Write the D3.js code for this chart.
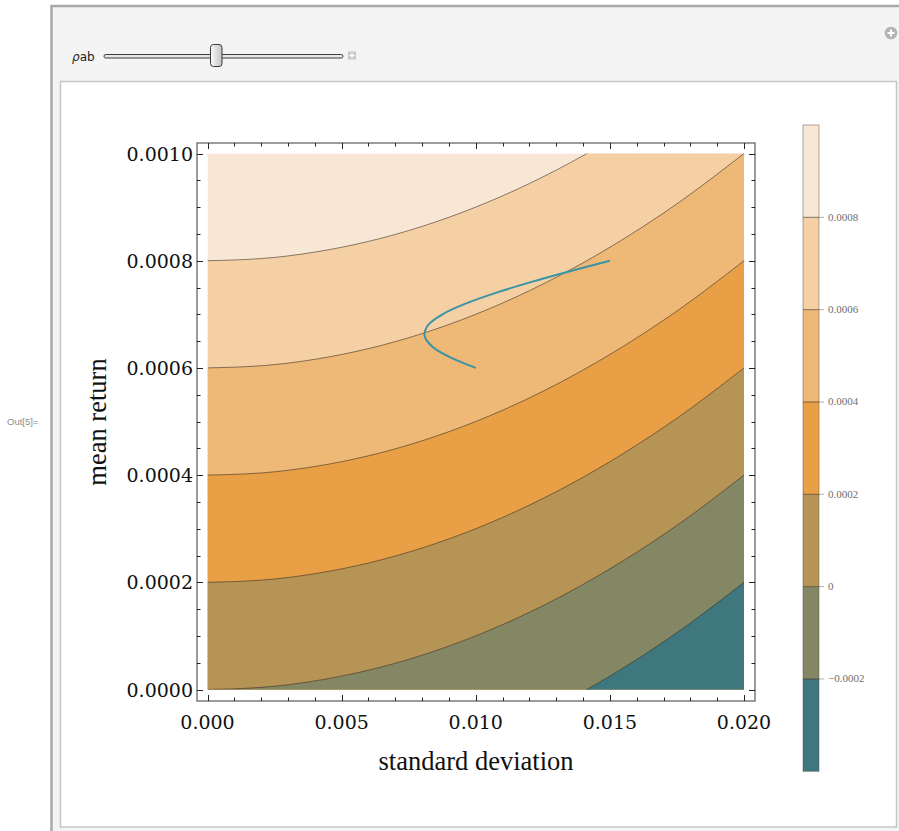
<!DOCTYPE html>
<html>
<head>
<meta charset="utf-8">
<script src="https://cdn.jsdelivr.net/npm/d3@7"></script>
<style>
  html, body { margin: 0; padding: 0; background: #ffffff; }
  svg { display: block; }
</style>
</head>
<body>
<svg id="chart" width="899" height="831"></svg>
<script>
// Axis ticks and labels
const sigmaTicks = [0, 0.005, 0.01, 0.015, 0.02];
const sigmaTickLabels = ["0.000", "0.005", "0.010", "0.015", "0.020"];
const muTicks = [0, 0.0002, 0.0004, 0.0006, 0.0008, 0.001];
const muTickLabels = ["0.0000", "0.0002", "0.0004", "0.0006", "0.0008", "0.0010"];

// Contour levels of the utility surface and band colours (lowest band first)
const contourLevels = [-0.0002, 0, 0.0002, 0.0004, 0.0006, 0.0008];
const contourLabels = ["\u22120.0002", "0", "0.0002", "0.0004", "0.0006", "0.0008"];
const bandColors = ["#3e777d", "#848763", "#b69455", "#e89f45", "#eeb877", "#f4d0a4", "#f9e7d5"];

// Each contour line: rise above its intercept at these standard deviations
const sigmaSamples = [0, 0.002, 0.004, 0.006, 0.008, 0.010, 0.012, 0.014, 0.016, 0.018, 0.020];
const contourRise = [0, 0.000004, 0.000016, 0.000036, 0.000064, 0.0001, 0.000144, 0.000196, 0.000256, 0.000324, 0.0004];

// Two-asset portfolio frontier (standard deviation, mean return)
const frontierSigma = [0.01, 0.009035, 0.008374, 0.008091, 0.008227, 0.008761, 0.009627, 0.010746, 0.012047, 0.013477, 0.015];
const frontierMu = [0.0006, 0.00062, 0.00064, 0.00066, 0.00068, 0.0007, 0.00072, 0.00074, 0.00076, 0.00078, 0.0008];

const svg = d3.select("#chart");

// ---- notebook panel ----
svg.append("rect").attr("x", 51.5).attr("y", 6).attr("width", 900).attr("height", 900)
  .attr("fill", "#f4f4f4").attr("stroke", "#a9a9a9").attr("stroke-width", 2.5);
svg.append("rect").attr("x", 60.5).attr("y", 81.5).attr("width", 836).attr("height", 745.5)
  .attr("fill", "#ffffff").attr("stroke", "#c6c6c6").attr("stroke-width", 1.5);

svg.append("text").attr("x", 7).attr("y", 425).text("Out[5]=")
  .attr("font-family", "'Liberation Sans', Arial, sans-serif").attr("font-size", 9.5).attr("fill", "#8c8c8c");

// control row
const ctrl = svg.append("g");
ctrl.append("text").attr("x", 72).attr("y", 61)
  .attr("font-family", "'DejaVu Sans', Tahoma, sans-serif").attr("font-size", 12).attr("fill", "#222")
  .call(t => {
    t.append("tspan").attr("font-style", "italic").text("\u03C1");
    t.append("tspan").text("ab");
  });
ctrl.append("rect").attr("x", 104).attr("y", 54.5).attr("width", 239).attr("height", 3.5).attr("rx", 1.75)
  .attr("fill", "#e8e8e8").attr("stroke", "#3c3c3c").attr("stroke-width", 1);
const thumbGrad = svg.append("defs").append("linearGradient").attr("id", "thumbGrad")
  .attr("x1", 0).attr("x2", 1).attr("y1", 0).attr("y2", 0);
thumbGrad.append("stop").attr("offset", "0%").attr("stop-color", "#fafafa");
thumbGrad.append("stop").attr("offset", "100%").attr("stop-color", "#c4c4c4");
ctrl.append("rect").attr("x", 210.5).attr("y", 44.5).attr("width", 11.5).attr("height", 22).attr("rx", 3)
  .attr("fill", "url(#thumbGrad)").attr("stroke", "#3a3a3a").attr("stroke-width", 1);
ctrl.append("rect").attr("x", 348).attr("y", 51.5).attr("width", 8).attr("height", 8)
  .attr("fill", "#c8c8c8");
ctrl.append("path").attr("d", "M352,53v5M349.5,55.5h5").attr("stroke", "#ffffff").attr("stroke-width", 1.3);
svg.append("circle").attr("cx", 891).attr("cy", 33).attr("r", 6.3).attr("fill", "#b4b4b4");
svg.append("path").attr("d", "M891,29.5v7M887.5,33h7").attr("stroke", "#ffffff").attr("stroke-width", 2);

// ---- contour plot ----
const x = d3.scaleLinear().domain([0, 0.02]).range([207.5, 744]);
const y = d3.scaleLinear().domain([0, 0.001]).range([689.5, 153.5]);

const defs = svg.select("defs");
defs.append("clipPath").attr("id", "plotClip").append("rect")
  .attr("x", x(0)).attr("y", y(0.001)).attr("width", x(0.02) - x(0)).attr("height", y(0) - y(0.001));

const plot = svg.append("g").attr("clip-path", "url(#plotClip)");

// top band fills the whole region; each lower band is painted beneath its contour
plot.append("rect").attr("x", x(0)).attr("y", y(0.001))
  .attr("width", x(0.02) - x(0)).attr("height", y(0) - y(0.001))
  .attr("fill", bandColors[bandColors.length - 1]);

const contourPoints = level => sigmaSamples.map((s, i) => [s, level + contourRise[i]]);

const areaBelow = d3.area()
  .x(d => x(d[0]))
  .y0(y(-0.001))
  .y1(d => y(d[1]))
  .curve(d3.curveNatural);
const lineOf = d3.line()
  .x(d => x(d[0]))
  .y(d => y(d[1]))
  .curve(d3.curveNatural);

for (let i = contourLevels.length - 1; i >= 0; i--) {
  plot.append("path").datum(contourPoints(contourLevels[i]))
    .attr("d", areaBelow).attr("fill", bandColors[i]);
}
contourLevels.forEach(level => {
  plot.append("path").datum(contourPoints(level))
    .attr("d", lineOf).attr("fill", "none")
    .attr("stroke", "#3d3126").attr("stroke-opacity", 0.75).attr("stroke-width", 0.8);
});

// frontier
const frontier = frontierSigma.map((s, i) => [s, frontierMu[i]]);
svg.append("path").datum(frontier)
  .attr("d", d3.line().x(d => x(d[0])).y(d => y(d[1])).curve(d3.curveCatmullRom))
  .attr("fill", "none").attr("stroke", "#3a94a6").attr("stroke-width", 2);

// frame
const fx0 = 197, fx1 = 755, fy0 = 143, fy1 = 701;
svg.append("rect").attr("x", fx0).attr("y", fy0).attr("width", fx1 - fx0).attr("height", fy1 - fy0)
  .attr("fill", "none").attr("stroke", "#686868").attr("stroke-width", 1.3);

const ticks = svg.append("g").attr("stroke", "#222").attr("stroke-width", 1);
const majLen = 6, minLen = 3.5;
const sigmaMinor = d3.range(0, 0.02 + 1e-9, 0.001);
const muMinor = d3.range(0, 0.001 + 1e-12, 0.00005);
const isMajorSigma = s => sigmaTicks.some(t => Math.abs(t - s) < 1e-9);
const isMajorMu = m => muTicks.some(t => Math.abs(t - m) < 1e-12);

sigmaMinor.forEach(s => {
  const len = isMajorSigma(s) ? majLen : minLen;
  const px = Math.round(x(s)) + 0.5;
  ticks.append("line").attr("x1", px).attr("x2", px).attr("y1", fy1).attr("y2", fy1 - len);
  ticks.append("line").attr("x1", px).attr("x2", px).attr("y1", fy0).attr("y2", fy0 + len);
});
muMinor.forEach(m => {
  const len = isMajorMu(m) ? majLen : minLen;
  const py = Math.round(y(m)) + 0.5;
  ticks.append("line").attr("x1", fx0).attr("x2", fx0 + len).attr("y1", py).attr("y2", py);
  ticks.append("line").attr("x1", fx1).attr("x2", fx1 - len).attr("y1", py).attr("y2", py);
});

const serif = "'DejaVu Serif', 'Liberation Serif', serif";
svg.append("g").selectAll("text").data(sigmaTicks).join("text")
  .attr("x", d => x(d)).attr("y", 729)
  .attr("text-anchor", "middle")
  .attr("font-family", serif).attr("font-size", 19).attr("fill", "#111")
  .text((d, i) => sigmaTickLabels[i]);
svg.append("g").selectAll("text").data(muTicks).join("text")
  .attr("x", 193).attr("y", d => y(d) + 7)
  .attr("text-anchor", "end")
  .attr("font-family", serif).attr("font-size", 19).attr("fill", "#111")
  .text((d, i) => muTickLabels[i]);

svg.append("text").attr("x", (fx0 + fx1) / 2).attr("y", 770)
  .attr("text-anchor", "middle").attr("font-family", "'Liberation Serif', serif")
  .attr("font-size", 26.5).attr("fill", "#111").text("standard deviation");
svg.append("text").attr("transform", "translate(106," + ((fy0 + fy1) / 2) + ") rotate(-90)")
  .attr("text-anchor", "middle").attr("font-family", "'Liberation Serif', serif")
  .attr("font-size", 26.5).attr("fill", "#111").text("mean return");

// ---- legend bar ----
const lv = d3.scaleLinear().domain([-0.0004, 0.001]).range([771.3, 125]);
const edges = [-0.0004].concat(contourLevels, [0.001]);
const legend = svg.append("g");
const lx = 803, lw = 16;
bandColors.forEach((c, i) => {
  legend.append("rect").attr("x", lx).attr("y", lv(edges[i + 1]))
    .attr("width", lw).attr("height", lv(edges[i]) - lv(edges[i + 1]))
    .attr("fill", c);
});
legend.append("rect").attr("x", lx).attr("y", lv(0.001)).attr("width", lw).attr("height", lv(-0.0004) - lv(0.001))
  .attr("fill", "none").attr("stroke", "#5a5047").attr("stroke-opacity", 0.6).attr("stroke-width", 0.8);
contourLevels.forEach((level, i) => {
  const py = lv(level);
  legend.append("line").attr("x1", lx).attr("x2", lx + lw).attr("y1", py).attr("y2", py)
    .attr("stroke", "#3d3126").attr("stroke-opacity", 0.7).attr("stroke-width", 0.9);
  legend.append("line").attr("x1", lx + lw).attr("x2", lx + lw + 5).attr("y1", py).attr("y2", py)
    .attr("stroke", "#9a9a9a").attr("stroke-width", 0.8);
  legend.append("text").attr("x", 828).attr("y", py + 3.5)
    .attr("font-family", "'Liberation Serif', serif").attr("font-size", 11).attr("fill", "#6e6e6e")
    .text(contourLabels[i]);
});
</script>
</body>
</html>
